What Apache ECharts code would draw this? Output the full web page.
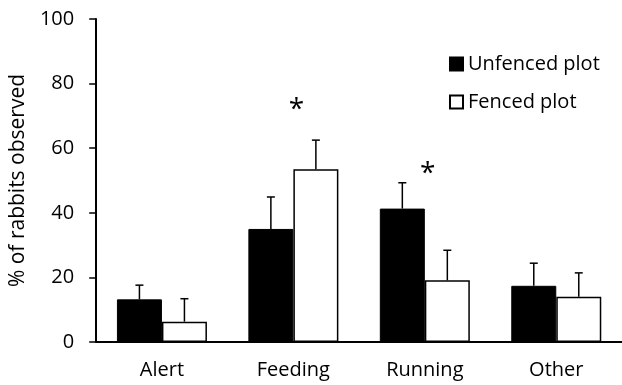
<!DOCTYPE html>
<html>
<head>
<meta charset="utf-8">
<script src="https://cdn.jsdelivr.net/npm/echarts@6/dist/echarts.min.js"></script>
<style>html,body{margin:0;padding:0;background:#fff}#c{width:622px;height:385px}</style>
</head>
<body>
<div id="c"></div>
<script>
const categories = ['Alert', 'Feeding', 'Running', 'Other'];
const unfenced = [13.2, 35.0, 41.3, 17.4];
const unfencedErr = [4.4, 9.9, 8.0, 7.0];
const fenced = [6.3, 53.5, 19.1, 14.0];
const fencedErr = [7.1, 9.0, 9.3, 7.4];
const signifCats = ['Feeding', 'Running'];
const signifY = [74, 54.2];
const yMin = 0, yMax = 100, yStep = 20;

const FONT = '"Open Sans", sans-serif';
const BAR_W = 45;

function errSeries(vals, errs, offset) {
  return {
    type: 'custom',
    z: 5,
    data: vals.map((v, i) => [i, v, v + errs[i]]),
    renderItem: function (params, api) {
      const base = api.coord([api.value(0), api.value(1)]);
      const top = api.coord([api.value(0), api.value(2)]);
      const x = base[0] + offset;
      const cap = 4;
      const st = { stroke: '#000', lineWidth: 1.5 };
      return {
        type: 'group',
        children: [
          { type: 'line', shape: { x1: x, y1: base[1], x2: x, y2: top[1] }, style: st },
          { type: 'line', shape: { x1: x - cap, y1: top[1], x2: x + cap, y2: top[1] }, style: st }
        ]
      };
    }
  };
}

const chart = echarts.init(document.getElementById('c'));
chart.setOption({
  animation: false,
  backgroundColor: '#fff',
  textStyle: { fontFamily: FONT },
  grid: { left: 94, top: 19, width: 534, height: 323 },
  legend: {
    orient: 'vertical',
    left: 449,
    top: 53,
    padding: 0,
    itemWidth: 13,
    itemHeight: 13,
    itemGap: 16,
    icon: 'rect',
    textStyle: { fontFamily: FONT, fontSize: 20, color: '#000', lineHeight: 22 },
    data: ['Unfenced plot', 'Fenced plot']
  },
  xAxis: {
    type: 'category',
    data: categories,
    axisLine: { lineStyle: { color: '#000', width: 2 } },
    axisTick: { show: false },
    axisLabel: { color: '#000', fontSize: 20, fontFamily: FONT, margin: 18 }
  },
  yAxis: {
    type: 'value',
    min: yMin, max: yMax, interval: yStep,
    name: '% of rabbits observed',
    nameLocation: 'middle',
    nameGap: 62,
    nameTextStyle: { color: '#000', fontSize: 21, fontFamily: FONT },
    axisLine: { show: true, lineStyle: { color: '#000', width: 2 } },
    axisTick: { show: true, length: 7, lineStyle: { color: '#000', width: 1.5 } },
    splitLine: { show: false },
    axisLabel: { color: '#000', fontSize: 20, fontFamily: FONT, margin: 22 }
  },
  series: [
    {
      name: 'Unfenced plot', type: 'bar', data: unfenced,
      barWidth: BAR_W, barGap: '0%',
      itemStyle: { color: '#000', borderColor: '#000', borderWidth: 1 }
    },
    {
      name: 'Fenced plot', type: 'bar', data: fenced,
      barWidth: BAR_W, barGap: '0%',
      itemStyle: { color: '#fff', borderColor: '#000', borderWidth: 1.5 }
    },
    errSeries(unfenced, unfencedErr, -BAR_W / 2),
    errSeries(fenced, fencedErr, BAR_W / 2),
    {
      type: 'custom',
      z: 6,
      data: signifCats.map((c, i) => [categories.indexOf(c), signifY[i]]),
      renderItem: function (params, api) {
        const p = api.coord([api.value(0), api.value(1)]);
        return {
          type: 'text',
          x: p[0] + 3, y: p[1] + 7,
          style: { text: '*', fill: '#000', font: '28px ' + FONT, align: 'center', verticalAlign: 'middle' }
        };
      }
    }
  ]
});
</script>
</body>
</html>
